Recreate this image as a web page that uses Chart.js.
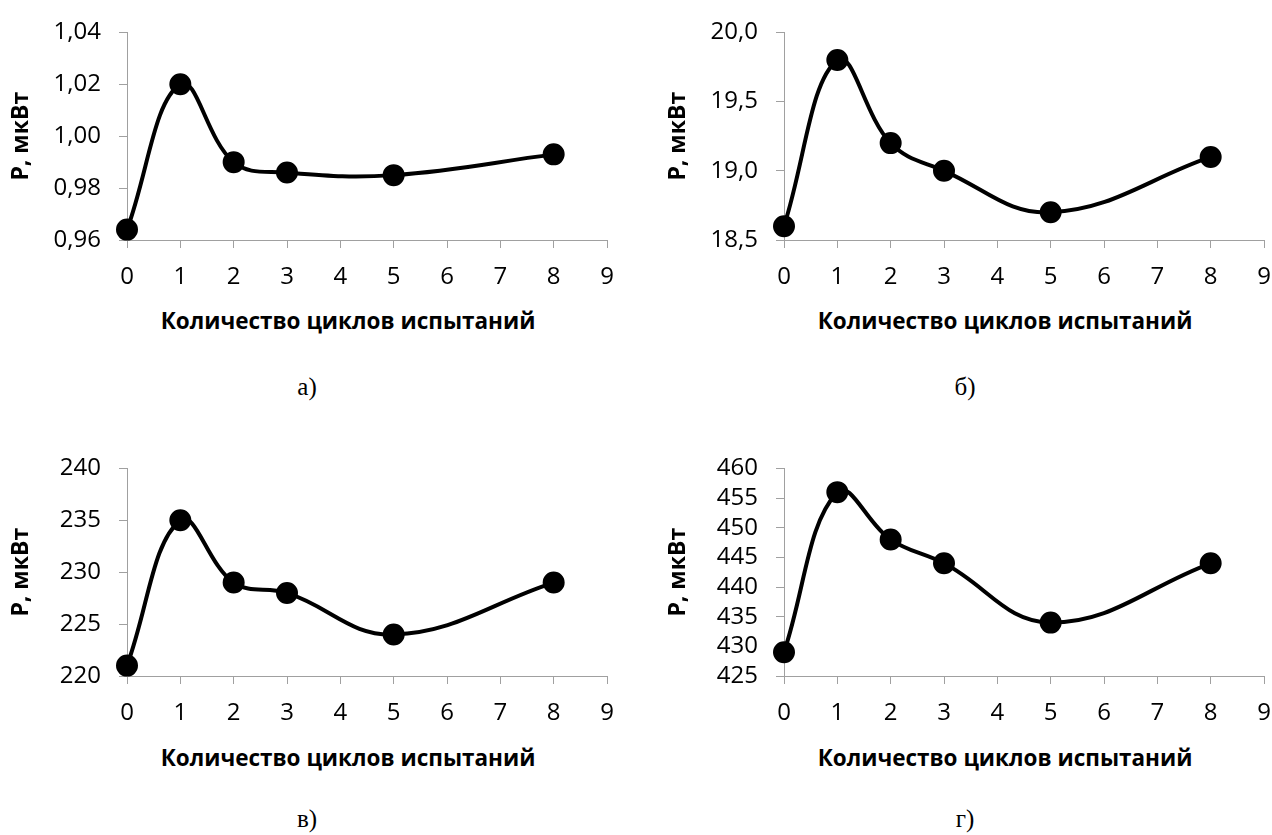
<!DOCTYPE html>
<html>
<head>
<meta charset="utf-8">
<script src="https://cdn.jsdelivr.net/npm/chart.js@4"></script>
<style>
  html, body { margin: 0; padding: 0; background: #fff; overflow: hidden; }
  body { width: 1272px; height: 835px; position: relative; }
  canvas { position: absolute; }
  .xt { position: absolute; font: bold 22.5px "Open Sans", sans-serif; color: #000;
        transform: translate(-50%, -50%); white-space: nowrap; }
  .cap { position: absolute; font: 25px "Liberation Serif", "Times New Roman", serif; color: #000;
         transform: translate(-50%, -50%); }
</style>
</head>
<body>
<canvas id="ca" width="630" height="300" style="left:0;top:0"></canvas>
<canvas id="cb" width="630" height="300" style="left:657px;top:0"></canvas>
<canvas id="cc" width="630" height="300" style="left:0;top:436px"></canvas>
<canvas id="cd" width="630" height="300" style="left:657px;top:436px"></canvas>

<div class="xt" style="left:348px;top:320px">Количество циклов испытаний</div>
<div class="xt" style="left:1005px;top:320px">Количество циклов испытаний</div>
<div class="xt" style="left:348px;top:757px">Количество циклов испытаний</div>
<div class="xt" style="left:1005px;top:757px">Количество циклов испытаний</div>

<div class="cap" style="left:307px;top:387px">а)</div>
<div class="cap" style="left:965px;top:387px">б)</div>
<div class="cap" style="left:307px;top:819px">в)</div>
<div class="cap" style="left:965px;top:819px">г)</div>

<script>
  var cycles = [0, 1, 2, 3, 5, 8];
  var xTicks = [0, 1, 2, 3, 4, 5, 6, 7, 8, 9];

  var powerA = [0.964, 1.020, 0.990, 0.986, 0.985, 0.993];
  var powerB = [18.6, 19.8, 19.2, 19.0, 18.7, 19.1];
  var powerC = [221, 235, 229, 228, 224, 229];
  var powerD = [429, 456, 448, 444, 434, 444];

  var ticksA = [0.96, 0.98, 1.00, 1.02, 1.04];
  var ticksB = [18.5, 19.0, 19.5, 20.0];
  var ticksC = [220, 225, 230, 235, 240];
  var ticksD = [425, 430, 435, 440, 445, 450, 455, 460];

  var axisColor = '#a0a0a0';
  var tickFont = { family: 'Open Sans', size: 24 };

  function makeChart(id, values, yTicks, decimals) {
    var points = cycles.map(function (c, i) {
      return { x: c, y: values[i] };
    });
    return new Chart(document.getElementById(id), {
      type: 'line',
      data: {
        datasets: [{
          data: points,
          borderColor: '#000',
          borderWidth: 4,
          backgroundColor: '#000',
          pointRadius: 9,
          pointBackgroundColor: '#000',
          pointBorderColor: '#000',
          tension: 0.4,
          clip: false
        }]
      },
      options: {
        responsive: false,
        animation: false,
        devicePixelRatio: 1,
        layout: { padding: { top: 27, right: 23, left: 0, bottom: 0 } },
        plugins: { legend: { display: false }, tooltip: { enabled: false } },
        scales: {
          x: {
            type: 'linear',
            min: 0,
            max: 9,
            afterBuildTicks: function (s) {
              s.ticks = xTicks.map(function (v) { return { value: v }; });
            },
            afterFit: function (s) { s.height = 60; },
            ticks: { font: tickFont, color: '#000', padding: 15, maxRotation: 0, autoSkip: false },
            grid: { drawOnChartArea: false, tickLength: 8, color: axisColor },
            border: { color: axisColor, width: 1 }
          },
          y: {
            min: yTicks[0],
            max: yTicks[yTicks.length - 1],
            afterBuildTicks: function (s) {
              s.ticks = yTicks.map(function (v) { return { value: v }; });
            },
            afterFit: function (s) { s.width = 127; },
            ticks: {
              font: tickFont,
              color: '#000',
              padding: 18,
              autoSkip: false,
              callback: function (v) {
                return Number(v).toFixed(decimals).replace('.', ',');
              }
            },
            grid: { drawOnChartArea: false, tickLength: 8, color: axisColor },
            border: { color: axisColor, width: 1 },
            title: {
              display: true,
              text: 'Р, мкВт',
              color: '#000',
              font: { family: 'Open Sans', size: 23, weight: 'bold' },
              padding: { top: 8, bottom: 0 }
            }
          }
        }
      }
    });
  }

  makeChart('ca', powerA, ticksA, 2);
  makeChart('cb', powerB, ticksB, 1);
  makeChart('cc', powerC, ticksC, 0);
  makeChart('cd', powerD, ticksD, 0);
</script>
</body>
</html>
